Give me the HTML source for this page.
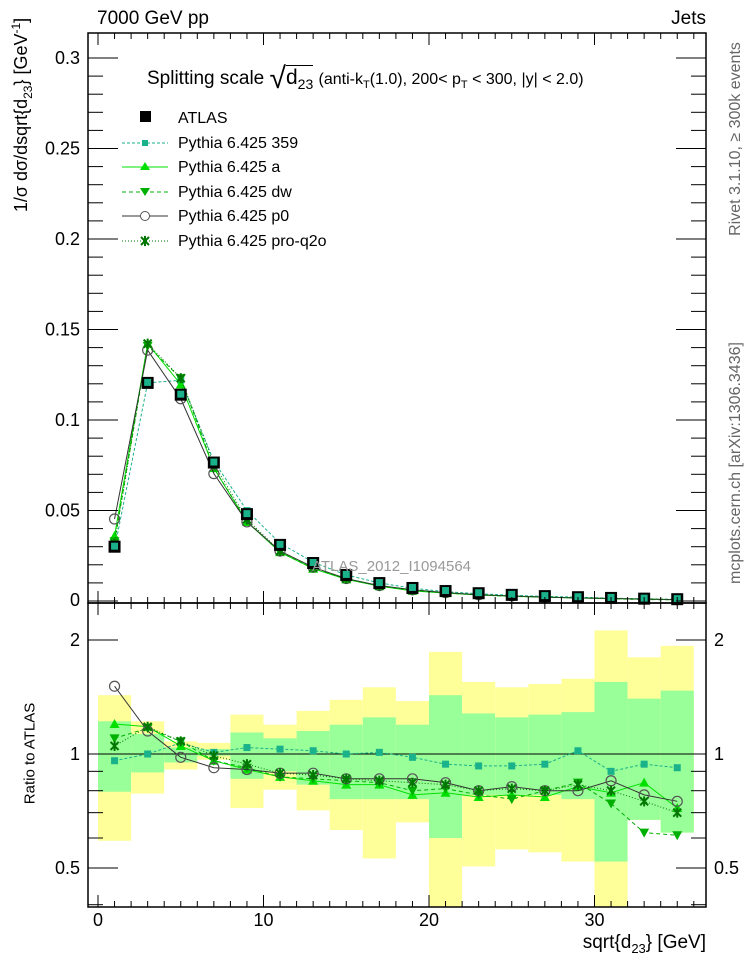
<!DOCTYPE html>
<html><head><meta charset="utf-8"><style>
body{margin:0;background:#fff;}
svg{display:block;font-family:"Liberation Sans",Arial,sans-serif;}
</style></head><body>
<svg id="c" width="746" height="972" viewBox="0 0 746 972" xmlns="http://www.w3.org/2000/svg">
<g id="bands"></g><g id="marks"></g><g id="axes"></g>
</svg>
<script>
const binLo=[0,2,4,6,8,10,12,14,16,18,20,22,24,26,28,30,32,34];
const atlas=[0.030,0.1205,0.114,0.0765,0.048,0.031,0.021,0.0144,0.0099,0.0072,0.0055,0.0043,0.0034,0.0027,0.0021,0.0017,0.0013,0.0010];
const r359=[0.96,1.0,1.07,1.01,1.04,1.03,1.02,1.0,1.01,0.98,0.94,0.93,0.93,0.94,1.02,0.9,0.94,0.92];
const rA=[1.2,1.18,1.05,0.96,0.91,0.87,0.85,0.83,0.83,0.78,0.79,0.77,0.78,0.77,0.82,0.79,0.84,0.72];
const rDW=[1.1,1.17,1.08,0.96,0.92,0.87,0.86,0.85,0.84,0.8,0.81,0.78,0.76,0.8,0.84,0.74,0.62,0.61];
const rP0=[1.51,1.15,0.98,0.92,0.91,0.89,0.89,0.86,0.86,0.86,0.84,0.8,0.82,0.8,0.8,0.85,0.78,0.75];
const rQ2O=[1.05,1.18,1.08,0.99,0.94,0.89,0.88,0.86,0.85,0.84,0.83,0.8,0.81,0.8,0.83,0.8,0.75,0.7];
const gHi=[1.22,1.13,1.04,1.03,1.14,1.1,1.15,1.195,1.25,1.195,1.43,1.28,1.25,1.27,1.29,1.55,1.4,1.47];
const gLo=[0.795,0.894,0.95,0.99,0.86,0.9,0.83,0.76,0.76,0.76,0.6,0.78,0.78,0.78,0.76,0.52,0.67,0.62];
const yHi=[1.43,1.22,1.08,1.07,1.27,1.195,1.3,1.39,1.5,1.38,1.86,1.55,1.5,1.53,1.58,2.12,1.8,1.93];
const yLo=[0.59,0.786,0.91,0.966,0.72,0.805,0.71,0.63,0.53,0.66,0.39,0.505,0.56,0.55,0.52,0.39,0.67,0.62];
const yTicksMain=[0.05,0.1,0.15,0.2,0.25,0.3];
const xTicks=[0,10,20,30];
const rTicks=[0.5,1,2];

const NS="http://www.w3.org/2000/svg";
const X=v=>98+v*16.55;
const YM=v=>601-v*1810;
const YR=r=>{const y=754-114*Math.log2(r);return Math.max(603,Math.min(907,y));};
function el(t,a,p){const e=document.createElementNS(NS,t);for(const k in a)e.setAttribute(k,a[k]);(p||document.getElementById('marks')).appendChild(e);return e;}
const bands=document.getElementById('bands'),axes=document.getElementById('axes');

binLo.forEach((b,i)=>{
  let r=el('rect',{x:X(b),y:YR(yHi[i]),width:X(b+2)-X(b),height:YR(yLo[i])-YR(yHi[i]),fill:'#ffff99'},bands);
  
  
  let g=el('rect',{x:X(b),y:YR(gHi[i]),width:X(b+2)-X(b),height:YR(gLo[i])-YR(gHi[i]),fill:'#99ff99'},bands);
  
  
});
let one=el('line',{x1:88,x2:706,y1:754,y2:754,stroke:'#000','stroke-width':1},bands);

const series=[
 {n:'pythia-359',r:r359,c:'#1ab28a',d:'3,2',m:'sq',w:1},
 {n:'pythia-a',r:rA,c:'#00e000',d:'',m:'tri',w:1},
 {n:'pythia-dw',r:rDW,c:'#00b000',d:'4,3',m:'itri',w:1},
 {n:'pythia-p0',r:rP0,c:'#333',d:'',m:'circ',w:1},
 {n:'pythia-pro-q2o',r:rQ2O,c:'#007700',d:'1,2',m:'star',w:1}
];
function marker(m,x,y,c,g){
  if(m==='sq')return el('rect',{x:x-3.5,y:y-3.5,width:7,height:7,fill:c},g);
  if(m==='tri')return el('path',{d:`M${x},${y-5}L${x+5},${y+4}L${x-5},${y+4}Z`,fill:c},g);
  if(m==='itri')return el('path',{d:`M${x},${y+5}L${x+5},${y-4}L${x-5},${y-4}Z`,fill:c},g);
  if(m==='circ')return el('circle',{cx:x,cy:y,r:5,fill:'none',stroke:'#555','stroke-width':1.2},g);
  return el('path',{d:`M${x-4},${y-4}L${x+4},${y+4}M${x+4},${y-4}L${x-4},${y+4}M${x},${y-5}V${y+5}`,stroke:c,'stroke-width':2,fill:'none'},g);
}
const marks=document.getElementById('marks');
series.forEach(s=>{
  const g=el('g',{},marks);
  
  
  let pm='',pr='';
  binLo.forEach((b,i)=>{const x=X(b+1);pm+=(i?'L':'M')+x+','+YM(atlas[i]*s.r[i]);pr+=(i?'L':'M')+x+','+YR(s.r[i]);});
  el('path',{d:pm,fill:'none',stroke:s.c,'stroke-width':s.w,'stroke-dasharray':s.d},g);
  el('path',{d:pr,fill:'none',stroke:s.c,'stroke-width':s.w,'stroke-dasharray':s.d},g);
  binLo.forEach((b,i)=>{
    const p=marker(s.m,X(b+1),YM(atlas[i]*s.r[i]),s.c,g);
    
    
    const q=marker(s.m,X(b+1),YR(s.r[i]),s.c,g);
    
    
  });
});
binLo.forEach((b,i)=>{
  const p=el('rect',{x:X(b+1)-6,y:YM(atlas[i])-6,width:12,height:12,fill:'#000'},marks);
  
  
  el('rect',{x:X(b+1)-3.5,y:YM(atlas[i])-4,width:7,height:7,fill:'#1ab28a'},marks);
});

el('rect',{x:88,y:33,width:618,height:570,fill:'none',stroke:'#000','stroke-width':1.5},axes);
el('rect',{x:88,y:603,width:618,height:304,fill:'none',stroke:'#000','stroke-width':1.5},axes);
for(let v=0;v<=36;v++){const L=v%10===0?12:6;const x=X(v);
 el('line',{x1:x,x2:x,y1:907,y2:907-L,stroke:'#000'},axes);
 el('line',{x1:x,x2:x,y1:603,y2:603-L,stroke:'#000'},axes);
 el('line',{x1:x,x2:x,y1:603,y2:603+L,stroke:'#000'},axes);
 el('line',{x1:x,x2:x,y1:33,y2:33+L,stroke:'#000'},axes);}
xTicks.forEach(v=>{const t=el('text',{x:X(v),y:926,'font-size':18,'text-anchor':'middle'},axes);t.textContent=v;
 });
for(let v=0;v<=0.31;v+=0.01){const big=Math.round(v*100)%5===0;const y=YM(v);const L=big?30:15;
 el('line',{x1:88,x2:88+L,y1:y,y2:y,stroke:'#000'},axes);el('line',{x1:706,x2:706-L,y1:y,y2:y,stroke:'#000'},axes);}
yTicksMain.forEach(v=>{const t=el('text',{x:80,y:YM(v)+6,'font-size':18,'text-anchor':'end'},axes);t.textContent=String(v);
 });
let z=el('text',{x:80,y:606,'font-size':18,'text-anchor':'end'},axes);z.textContent='0';
[0.4,0.5,0.6,0.7,0.8,0.9,1,2].forEach(v=>{const y=YR(v);const L=(v===0.5||v===1||v===2)?30:15;
 el('line',{x1:88,x2:88+L,y1:y,y2:y,stroke:'#000'},axes);el('line',{x1:706,x2:706-L,y1:y,y2:y,stroke:'#000'},axes);});
rTicks.forEach(v=>{let t=el('text',{x:80,y:YR(v)+6,'font-size':18,'text-anchor':'end'},axes);t.textContent=v;
 
 t=el('text',{x:714,y:YR(v)+6,'font-size':18},axes);t.textContent=v;});
</script>
<div style="position:absolute;left:0;top:0;width:746px;height:972px;pointer-events:none;font-family:'Liberation Sans',Arial,sans-serif;color:#000">
<div style="position:absolute;left:97px;top:8px;font-size:19px">7000 GeV pp</div>
<div style="position:absolute;right:40px;top:8px;font-size:19px">Jets</div>
<div style="position:absolute;left:147px;top:62px;font-size:19px;white-space:nowrap">Splitting scale <span style="font-size:30px;vertical-align:-4px">√</span><span style="border-top:1.5px solid #000;font-size:21px">d<sub style="font-size:14px">23</sub></span> <span style="font-size:16px">(anti-k<sub style="font-size:11px">T</sub>(1.0), 200&lt; p<sub style="font-size:11px">T</sub> &lt; 300, |y| &lt; 2.0)</span></div>
<div style="position:absolute;left:178px;top:107px;font-size:16px;line-height:24.5px">
<div>ATLAS</div>
<div>Pythia 6.425 359</div>
<div>Pythia 6.425 a</div>
<div>Pythia 6.425 dw</div>
<div>Pythia 6.425 p0</div>
<div>Pythia 6.425 pro-q2o</div>
</div>
<div style="position:absolute;left:312px;top:558px;font-size:15px;color:#999">ATLAS_2012_I1094564</div>
<div style="position:absolute;left:-128px;top:155px;width:300px;text-align:right;transform:rotate(-90deg);font-size:18px;white-space:nowrap">1/σ dσ/dsqrt{d<sub style="font-size:12px">23</sub>} [GeV<sup style="font-size:12px">-1</sup>]</div>
<div style="position:absolute;left:-50px;top:745px;width:160px;text-align:center;transform:rotate(-90deg);font-size:15px">Ratio to ATLAS</div>
<div style="position:absolute;right:40px;top:932px;font-size:19px">sqrt{d<sub style="font-size:13px">23</sub>} [GeV]</div>
<div style="position:absolute;left:596px;top:130px;width:280px;text-align:center;transform:rotate(-90deg);font-size:16px;color:#666;white-space:nowrap">Rivet 3.1.10, ≥ 300k events</div>
<div style="position:absolute;left:596px;top:454px;width:280px;text-align:center;transform:rotate(-90deg);font-size:16px;color:#666;white-space:nowrap">mcplots.cern.ch [arXiv:1306.3436]</div>
</div>
<svg width="746" height="972" style="position:absolute;left:0;top:0;pointer-events:none">
<rect x="140" y="111" width="11" height="11" fill="#000"/>
<line x1="122" y1="143" x2="168" y2="143" stroke="#1ab28a" stroke-dasharray="3,2"/><rect x="142" y="140" width="6" height="6" fill="#1ab28a"/>
<line x1="122" y1="167" x2="168" y2="167" stroke="#00e000"/><path d="M145,162L150,170L140,170Z" fill="#00e000"/>
<line x1="122" y1="192" x2="168" y2="192" stroke="#00b000" stroke-dasharray="4,3"/><path d="M145,196L150,188L140,188Z" fill="#00b000"/>
<line x1="122" y1="216" x2="168" y2="216" stroke="#333"/><circle cx="145" cy="216" r="4.5" fill="#fff" stroke="#555"/>
<line x1="122" y1="241" x2="168" y2="241" stroke="#007700" stroke-dasharray="1,2"/><path d="M141,237L149,245M149,237L141,245M145,236V246" stroke="#007700" stroke-width="2"/>
</svg>
</body></html>
